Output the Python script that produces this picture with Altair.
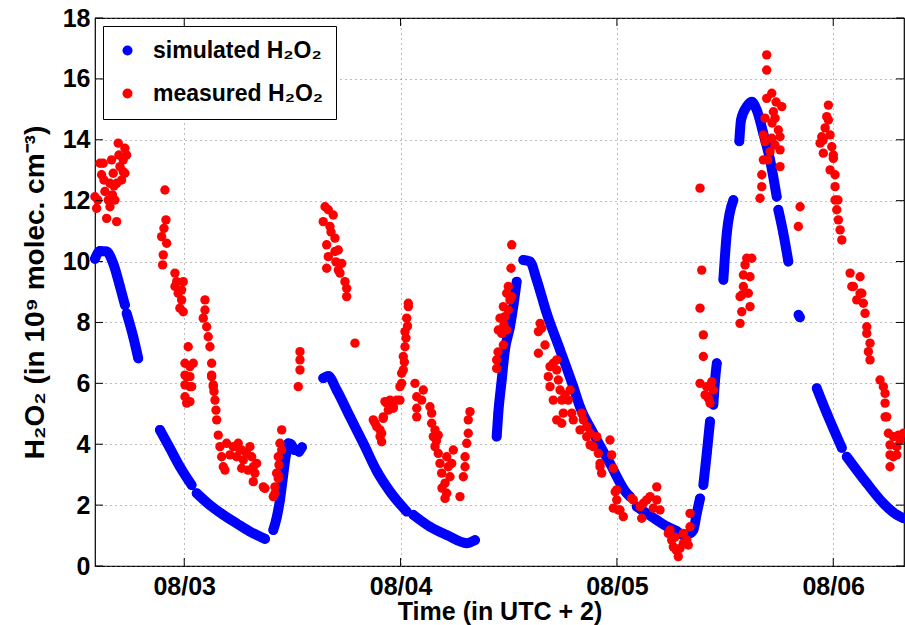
import altair as alt
import pandas as pd

SIM = "simulated H₂O₂"
MEAS = "measured H₂O₂"

# hours since 08/02 00:00 (UTC+2)
sim_hours = [14.1, 14.65, 15.39, 16.12, 16.87, 17.42,
             17.61, 18.34, 18.9,
             21.3, 22.41, 23.52, 24.82,
             25.38, 26.85, 28.33, 29.81, 31.29, 32.96,
             33.88, 34.25, 34.62, 34.98, 35.28, 35.54, 35.84, 36.17,
             36.73, 37.06,
             39.42, 39.98, 40.91, 42.39, 43.87, 45.36, 46.84, 48.68,
             49.41, 51.26, 53.11, 55.33, 56.26,
             58.66, 58.84, 59.22, 59.58, 60.14, 60.5, 60.88,
             61.61, 62.36, 63.1, 64.21, 65.69, 67.16, 67.9, 69.38, 71.23, 73.09, 73.45,
             74.2, 75.31, 76.42, 77.53, 78.64, 79.33, 80.11, 80.48, 80.86, 81.22,
             81.59, 81.97, 82.33,
             82.7, 82.89, 83.08,
             83.81, 84.19, 84.92,
             85.58, 85.77, 86.4, 86.96, 87.51, 88.24, 88.99, 89.73,
             89.91, 90.46, 91.02,
             92.15, 92.3,
             94.17, 95.28, 96.95,
             97.5, 99.72, 101.56, 103.05, 103.78]
sim_vals = [10.09, 10.35, 10.33, 9.94, 9.18, 8.57,
            8.3, 7.53, 6.82,
            4.47, 3.87, 3.26, 2.66,
            2.39, 2.0, 1.68, 1.4, 1.13, 0.89,
            1.18, 1.58, 2.17, 2.99, 3.65, 4.03, 4.0, 3.81,
            3.75, 3.9,
            6.17, 6.24, 5.78, 4.9, 4.03, 3.12, 2.44, 1.79,
            1.68, 1.29, 1.02, 0.75, 0.85,
            4.25, 5.02, 6.11, 7.1, 7.86, 8.52, 9.34,
            10.05, 10.0, 9.4, 8.3, 7.1, 5.89, 5.23, 4.36, 3.37, 2.39, 2.28,
            1.95, 1.73, 1.51, 1.3, 1.15, 1.02, 1.07, 1.18, 1.73, 2.22,
            2.66, 3.7, 4.75,
            5.3, 6.11, 6.66,
            9.4, 10.93, 12.02,
            13.95, 14.65, 15.09, 15.25, 14.98, 14.21, 13.34, 12.13,
            11.7, 10.93, 10.0,
            8.25, 8.17,
            5.84, 5.02, 3.88,
            3.59, 2.72, 2.06, 1.68, 1.57]
sim_seg = ([1] * 6 + [2] * 3 + [3] * 4 + [4] * 6 + [5] * 8 + [6] * 2 + [7] * 8 + [8] * 5
           + [9] * 7 + [10] * 11 + [11] * 10 + [12] * 3 + [13] * 3 + [14] * 3 + [15] * 8
           + [16] * 3 + [17] * 2 + [18] * 3 + [19] * 5)

meas_hours = [
    14.09, 14.28, 14.65, 14.83, 15.01, 15.2, 15.39, 15.57, 15.76, 15.76, 15.94, 16.12, 16.31, 16.5, 16.5,
    16.68, 16.87, 17.05, 17.23, 17.23, 17.42, 17.61, 17.42, 14.42, 15.09, 16.03, 16.75, 16.2,
    21.86, 21.97, 21.75, 21.49, 22.05, 21.67, 21.6, 22.97, 23.16, 23.89, 22.97, 23.33, 23.71, 23.52, 23.89, 23.71,
    24.44, 24.08, 24.63, 25.0, 24.27, 24.63, 24.08, 24.08, 24.82, 24.08, 24.63, 24.27, 24.63,
    26.3, 26.3, 26.11, 26.49, 26.66, 26.85, 27.04, 27.04, 27.22, 27.04, 27.22, 27.3, 27.41, 27.52, 27.6, 27.77,
    27.96, 28.15, 28.33, 28.52, 28.7, 29.44, 29.99, 30.37, 29.81, 30.55, 30.37, 31.29, 31.48, 31.66, 31.84,
    31.66, 32.77, 32.03, 30.92, 30.18, 32.95, 29.07, 31.07,
    34.81, 34.62, 34.81, 34.43, 34.25, 34.43, 34.06, 34.06, 33.88, 34.43, 34.51,
    36.84, 36.84, 36.84, 36.65,
    39.62, 39.98, 40.53, 39.42, 40.17, 40.72, 39.8, 41.09, 39.98, 40.72, 39.8, 41.47, 41.28, 41.83, 42.02, 42.02,
    41.09, 40.28, 40.83, 42.94,
    44.97, 45.35, 45.72, 45.9, 45.72, 46.08, 46.27, 46.83, 46.64, 47.19, 47.93, 47.57, 48.12, 47.93, 48.12, 48.3,
    48.3, 48.49, 48.49, 48.68, 48.86, 48.86, 46.46, 46.08, 45.9, 47.19, 45.16, 48.42, 48.6, 48.77,
    49.6, 50.52, 49.79, 50.34, 49.79, 49.79, 51.26, 51.45, 51.45, 51.82, 52.18, 51.63, 51.82, 52.18, 52.37,
    52.56, 52.93, 53.12, 52.93, 53.48, 53.67, 53.85, 53.12, 53.29, 54.59, 54.96, 55.15, 55.15, 55.34, 55.51,
    55.51, 55.7, 52.59, 51.98,
    60.33, 60.25, 59.95, 60.14, 59.77, 59.4, 59.03, 59.58, 58.84, 59.22, 59.77, 59.4, 58.66, 58.66, 60.33,
    59.95, 59.47, 58.81,
    63.48, 63.29, 63.66, 63.29, 64.94, 65.32, 64.58, 64.39, 65.32, 65.5, 64.58, 65.69, 66.8, 65.88, 66.61,
    64.94, 66.05, 65.88, 66.99, 67.16, 68.1, 68.27, 68.65, 69.02, 69.76, 69.38, 69.94, 70.13, 70.31, 71.23,
    71.42, 71.6, 71.98, 71.98, 71.6, 72.71, 72.34, 73.82, 74.75, 74.93, 75.68, 76.42, 76.78, 76.04, 65.32,
    67.91, 68.65, 70.13, 71.81, 72.16, 73.64, 74.57, 75.31, 76.42, 66.24, 64.02, 69.02,
    77.7, 78.08, 78.26, 78.81, 79.0, 79.37, 79.75, 79.92, 79.37, 80.11, 80.11, 78.45, 77.89, 78.56,
    81.22, 81.59, 81.59, 81.22, 81.96, 82.52, 81.78, 82.33, 82.7, 82.14, 81.22, 81.41,
    88.62, 88.62, 89.18, 88.62, 90.29, 89.36, 88.43, 89.54, 89.91, 90.1, 88.25, 88.43, 89.18, 90.1, 88.99,
    88.25, 90.1, 88.07, 88.07, 87.88, 92.32, 92.13, 86.4, 86.96, 86.22, 86.03, 86.77, 86.03, 85.85, 86.58,
    85.66, 86.77, 85.85, 85.66, 89.21, 89.66, 88.74, 89.53,
    95.46, 95.28, 95.46, 94.72, 94.54, 95.65, 94.9, 95.84, 96.01, 96.01, 95.65, 96.2, 96.2, 96.2, 96.39,
    96.57, 96.76, 96.95, 97.87, 98.98, 98.23, 99.17, 98.61, 98.06, 98.98, 99.34, 99.53, 99.72, 99.72, 100.08,
    99.9, 100.08, 101.19, 101.56, 101.75, 101.75, 101.94, 102.12, 102.67, 103.23, 103.78, 102.3, 103.05,
    102.3, 103.05, 102.3, 102.67, 101.75, 103.41, 96.53, 95.1, 94.88,
]
meas_vals = [
    12.13, 11.75, 13.23, 12.85, 13.23, 12.3, 11.42, 12.02, 12.57, 11.8, 13.34, 12.9, 12.02, 11.31, 12.57,
    13.89, 13.12, 12.68, 12.95, 13.34, 13.72, 13.5, 12.9, 12.02, 12.68, 12.19, 13.5, 12.48,
    12.35, 11.37, 11.09, 10.82, 10.6, 10.22, 9.89, 9.62, 9.34, 9.34, 9.18, 8.96, 8.74, 8.47, 8.35, 9.07,
    7.2, 6.66, 6.55, 6.66, 6.22, 5.89, 5.56, 6.27, 5.89, 5.95, 5.4, 5.35, 6.22,
    8.74, 8.41, 8.14, 7.86, 7.53, 7.2, 6.66, 6.22, 5.89, 6.27, 5.95, 5.73, 5.45, 5.12, 4.8, 4.3,
    3.92, 3.59, 3.26, 3.15, 4.03, 3.92, 4.03, 3.81, 3.59, 3.48, 3.21, 3.92, 3.59, 3.26, 3.05,
    2.77, 2.6, 3.37, 3.7, 3.81, 2.55, 3.65, 3.15,
    4.47, 4.03, 3.81, 3.59, 3.05, 2.88, 2.6, 2.39, 2.28, 2.99, 3.32,
    7.04, 6.77, 6.44, 5.89,
    11.8, 11.7, 11.53, 11.31, 11.15, 10.77, 10.55, 10.38, 10.16, 10.33, 9.78, 9.94, 9.62, 9.34, 9.12, 8.85,
    9.72, 10.97, 9.99, 7.32,
    4.8, 4.58, 4.25, 4.08, 4.47, 4.85, 5.4, 5.45, 5.12, 5.18, 5.45, 5.45, 6.0, 5.89, 6.33, 6.44,
    6.88, 7.2, 7.7, 8.14, 8.52, 8.63, 5.35, 4.9, 4.36, 5.23, 4.7, 6.7, 7.49, 7.88,
    6.0, 5.78, 5.56, 5.45, 5.18, 4.9, 5.23, 5.02, 4.69, 4.47, 4.3, 4.25, 3.92, 3.7, 3.37,
    3.05, 2.72, 2.39, 2.22, 2.93, 3.37, 3.81, 3.59, 3.26, 2.28, 2.93, 3.26, 3.59, 4.03, 4.36,
    4.8, 5.07, 2.56, 4.11,
    10.55, 9.78, 9.18, 8.74, 8.96, 8.52, 8.14, 8.19, 7.75, 7.64, 7.75, 7.26, 6.77, 6.49, 8.85,
    8.41, 7.92, 7.03,
    7.97, 7.7, 7.81, 6.99, 6.66, 6.77, 6.55, 6.22, 6.44, 6.11, 5.89, 5.78, 5.78, 5.45, 5.45,
    5.45, 5.02, 4.69, 5.02, 4.8, 5.02, 4.8, 4.58, 4.36, 4.25, 3.92, 3.7, 3.26, 3.05, 4.14,
    3.65, 3.21, 2.5, 2.17, 1.9, 1.62, 1.84, 2.17, 1.57, 2.06, 2.28, 2.6, 1.84, 1.9, 4.8,
    4.47, 4.25, 3.37, 2.44, 1.84, 2.22, 1.95, 2.17, 2.17, 5.62, 7.26, 3.98,
    1.07, 0.85, 0.63, 0.31, 0.58, 0.75, 0.85, 0.69, 1.07, 1.29, 1.73, 0.95, 1.18, 0.53,
    8.47, 7.59, 6.88, 6.0, 5.89, 6.05, 5.62, 5.35, 5.78, 5.51, 12.41, 9.72,
    16.79, 16.29, 15.53, 15.36, 15.09, 14.92, 14.71, 14.71, 14.32, 14.1, 14.16, 13.94, 14.05, 13.67, 13.61,
    13.34, 13.12, 12.85, 12.46, 12.08, 11.8, 11.15, 10.11, 10.11, 9.89, 9.56, 9.5, 9.18, 8.9, 8.96,
    8.85, 8.52, 8.35, 7.97, 14.55, 15.24, 13.34, 13.83,
    15.14, 14.76, 14.65, 14.1, 13.89, 14.16, 13.56, 13.77, 13.5, 13.39, 13.01, 12.85, 12.46, 12.02, 11.7,
    11.37, 11.04, 10.71, 9.62, 9.5, 9.18, 8.96, 8.74, 9.18, 8.96, 8.63, 8.3, 7.86, 7.64, 7.32,
    7.04, 6.77, 6.11, 5.89, 5.67, 5.35, 4.9, 4.36, 4.25, 4.3, 4.36, 3.98, 3.92,
    3.65, 3.65, 3.26, 3.59, 4.9, 4.14, 12.02, 14.39, 13.99,
]

x_ticks = [24, 48, 72, 96]
y_ticks = [0, 2, 4, 6, 8, 10, 12, 14, 16, 18]
x_domain = [14.1, 103.85]
y_domain = [0, 18]

W, H = 809, 548
FONT = "Liberation Sans"

sim = pd.DataFrame({"h": sim_hours, "v": sim_vals, "seg": sim_seg, "series": SIM})
meas = pd.DataFrame({"h": meas_hours, "v": meas_vals, "series": MEAS})
pts = pd.concat([sim[["h", "v", "series"]], meas], ignore_index=True)

xs = alt.Scale(domain=x_domain, nice=False, zero=False)
ys = alt.Scale(domain=y_domain, nice=False, zero=False)

x_axis = alt.Axis(values=x_ticks, labelExpr="'08/0' + (2 + datum.value / 24)",
                  title="Time (in UTC + 2)", ticks=False, tickSize=0, domain=False,
                  grid=True, gridDash=[1, 4], gridColor="#7a7a7a", gridWidth=1,
                  labelPadding=8, titlePadding=0, titleFontSize=25)
y_axis = alt.Axis(values=y_ticks, title="H₂O₂ (in 10⁹ molec. cm⁻³)", ticks=False, tickSize=0,
                  domain=False, grid=True, gridDash=[1, 4], gridColor="#7a7a7a", gridWidth=1,
                  labelPadding=5, titlePadding=13, titleFontSize=28)

color = alt.Color("series:N", scale=alt.Scale(domain=[SIM, MEAS], range=["#0000ff", "#ff0000"]),
                  legend=alt.Legend(title=None, orient="none", legendX=8, legendY=8,
                                    fillColor="white", strokeColor="black", padding=13,
                                    labelFont=FONT, labelFontSize=23, labelFontWeight="bold",
                                    labelColor="black", labelLimit=400, symbolSize=100,
                                    symbolType="circle", symbolStrokeWidth=0, rowPadding=19,
                                    labelOffset=14, symbolOffset=0))

line = alt.Chart(sim).mark_line(color="#0000ff", strokeWidth=10, strokeCap="round",
                                strokeJoin="round", interpolate="monotone").encode(
    x=alt.X("h:Q", scale=xs, axis=x_axis),
    y=alt.Y("v:Q", scale=ys, axis=y_axis),
    detail="seg:N",
)

points = alt.Chart(pts).mark_circle(size=88, opacity=1).encode(
    x=alt.X("h:Q", scale=xs),
    y=alt.Y("v:Q", scale=ys),
    color=color,
)

tx = pd.DataFrame({"t": x_ticks})
ty = pd.DataFrame({"t": y_ticks})
tick_b = alt.Chart(tx).mark_rule(color="black", strokeWidth=1).encode(
    x=alt.X("t:Q", scale=xs), y=alt.value(H), y2=alt.value(H - 8))
tick_t = alt.Chart(tx).mark_rule(color="black", strokeWidth=1).encode(
    x=alt.X("t:Q", scale=xs), y=alt.value(0), y2=alt.value(8))
tick_l = alt.Chart(ty).mark_rule(color="black", strokeWidth=1).encode(
    y=alt.Y("t:Q", scale=ys), x=alt.value(0), x2=alt.value(8))
tick_r = alt.Chart(ty).mark_rule(color="black", strokeWidth=1).encode(
    y=alt.Y("t:Q", scale=ys), x=alt.value(W), x2=alt.value(W - 8))

chart = alt.layer(line, points, tick_b, tick_t, tick_l, tick_r).properties(
    width=W, height=H,
    autosize=alt.AutoSizeParams(type="none"),
    padding={"left": 95, "top": 18, "right": 1, "bottom": 59},
    background="white",
).configure_view(
    stroke="black", strokeWidth=1.2
).configure_axis(
    labelFont=FONT, labelFontSize=25, labelFontWeight="bold", labelColor="black",
    titleFont=FONT, titleFontWeight="bold", titleColor="black",
)

chart.save("out.html", embed_options={"renderer": "svg", "actions": False})
